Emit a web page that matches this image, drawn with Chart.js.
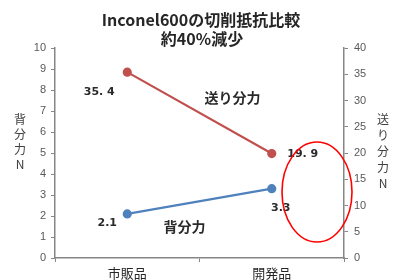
<!DOCTYPE html>
<html>
<head>
<meta charset="utf-8">
<script src="https://cdn.jsdelivr.net/npm/chart.js@4.4.0/dist/chart.umd.min.js"></script>
<style>
  html, body { margin: 0; padding: 0; background: #fff; }
  .chartBox { width: 397px; height: 280px; position: relative; }
</style>
</head>
<body>
<div class="chartBox"><canvas id="chart"></canvas></div>
<script>
const categories = ["市販品", "開発品"];
const backForce = [2.1, 3.3];     // 背分力, left axis
const feedForce = [35.4, 19.9];   // 送り分力, right axis
const backLabels = ["2.1", "3.3"];
const feedLabels = ["35. 4", "19. 9"];
const leftAxis = [0, 10, 1];      // min, max, step
const rightAxis = [0, 40, 5];
const titleLines = ["Inconel600の切削抵抗比較", "約40%減少"];

const RED = "#C0504D";
const BLUE = "#4F81BD";
const AXIS = "#868686";
const JP = "'Noto Sans CJK JP', sans-serif";

const decorations = {
  id: "decorations",
  afterDatasetsDraw(chart) {
    const { ctx, chartArea } = chart;
    ctx.save();

    // title
    ctx.fillStyle = "#262626";
    ctx.textAlign = "center";
    ctx.textBaseline = "middle";
    ctx.font = "bold 16px " + JP;
    ctx.fillText(titleLines[0], 201, 20);
    ctx.fillText(titleLines[1], 202, 39);

    // vertical axis titles
    ctx.font = "12px " + JP;
    ctx.fillStyle = "#404040";
    "背分力N".split("").forEach((c, i) => ctx.fillText(c, 20, 119 + i * 15));
    "送り分力N".split("").forEach((c, i) => ctx.fillText(c, 383, 119 + i * 16));

    // value labels
    ctx.font = "bold 11px 'DejaVu Sans', " + JP;
    ctx.fillStyle = "#2a2a2a";
    const red = chart.getDatasetMeta(1).data;
    const blue = chart.getDatasetMeta(0).data;
    ctx.fillText(feedLabels[0], red[0].x - 28, red[0].y + 20);
    ctx.fillText(feedLabels[1], red[1].x + 31, red[1].y + 1);
    ctx.fillText(backLabels[0], blue[0].x - 20, blue[0].y + 9);
    ctx.fillText(backLabels[1], blue[1].x + 9, blue[1].y + 19);

    // series names
    ctx.font = "bold 14px " + JP;
    const midX = (red[0].x + red[1].x) / 2;
    ctx.fillText("送り分力", midX + 33, chartArea.top + 50);
    ctx.fillText("背分力", midX - 15, chartArea.top + 179);

    // red ellipse annotation
    ctx.strokeStyle = "#FF0000";
    ctx.lineWidth = 1.6;
    ctx.beginPath();
    ctx.ellipse(chartArea.right - 27, chartArea.top + 144, 35, 50, 0, 0, Math.PI * 2);
    ctx.stroke();
    ctx.restore();
  }
};

new Chart(document.getElementById("chart"), {
  type: "line",
  data: {
    labels: categories,
    datasets: [
      {
        label: "背分力",
        data: backForce,
        yAxisID: "y",
        borderColor: BLUE,
        backgroundColor: BLUE,
        borderWidth: 2.2,
        pointRadius: 3.5,
        pointBackgroundColor: BLUE,
      },
      {
        label: "送り分力",
        data: feedForce,
        yAxisID: "y1",
        borderColor: RED,
        backgroundColor: RED,
        borderWidth: 2.2,
        pointRadius: 3.5,
        pointBackgroundColor: RED,
      },
    ],
  },
  options: {
    maintainAspectRatio: false,
    responsive: true,
    animation: false,
    layout: { padding: { top: 48, left: 0, right: 0, bottom: 0 } },
    plugins: {
      legend: { display: false },
      tooltip: { enabled: false },
    },
    scales: {
      x: {
        offset: true,
        grid: { offset: true, drawOnChartArea: false, color: AXIS, tickLength: 4 },
        border: { color: AXIS, width: 1.5 },
        ticks: { color: "#262626", font: { family: JP, size: 13 }, padding: 3 },
        afterFit(s) { s.height = 22; },
      },
      y: {
        position: "left",
        min: leftAxis[0],
        max: leftAxis[1],
        ticks: { stepSize: leftAxis[2], color: "#595959", font: { family: "'Liberation Sans'", size: 11 }, padding: 5 },
        grid: { drawOnChartArea: false, color: AXIS, tickLength: 4 },
        border: { color: AXIS, width: 1.5 },
        afterFit(s) { s.width = 55; },
      },
      y1: {
        position: "right",
        min: rightAxis[0],
        max: rightAxis[1],
        ticks: { stepSize: rightAxis[2], color: "#595959", font: { family: "'Liberation Sans'", size: 11 }, padding: 6 },
        grid: { drawOnChartArea: false, color: AXIS, tickLength: 4 },
        border: { color: AXIS, width: 1.5 },
        afterFit(s) { s.width = 53; },
      },
    },
  },
  plugins: [decorations],
});
</script>
</body>
</html>
